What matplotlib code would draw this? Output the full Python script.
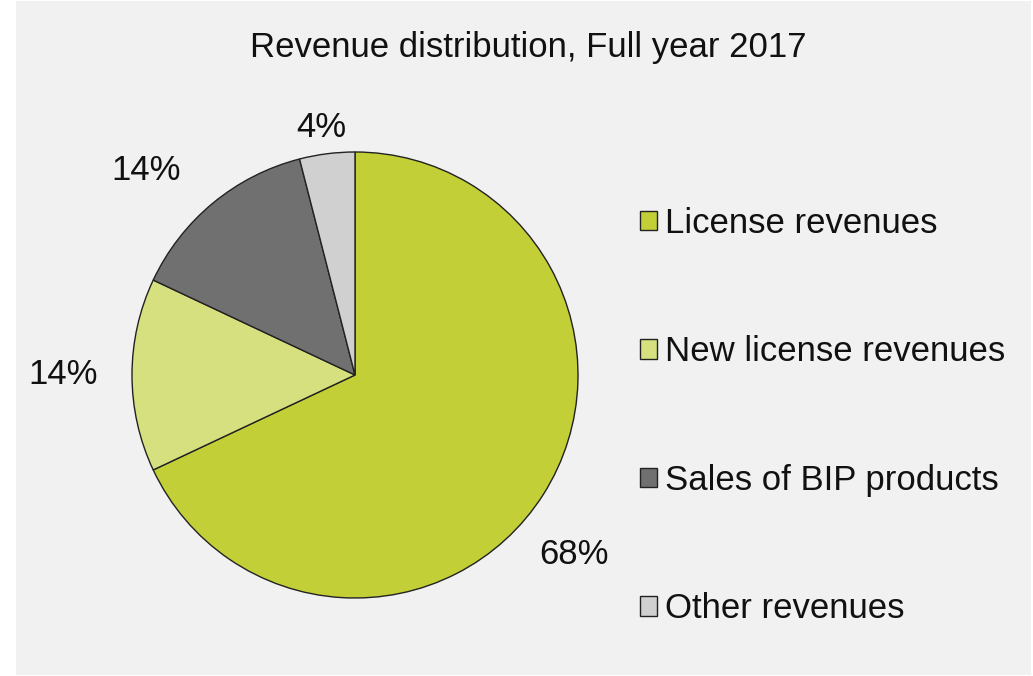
import matplotlib
matplotlib.use("Agg")
import matplotlib.pyplot as plt
from matplotlib.patches import Rectangle
import numpy as np

title = "Revenue distribution, Full year 2017"
categories = ["License revenues", "New license revenues", "Sales of BIP products", "Other revenues"]
values = [68, 14, 14, 4]
pct_labels = ["68%", "14%", "14%", "4%"]
colors = ["#c3cf37", "#d6e07f", "#707070", "#d0d0d0"]

# label placement styling (radius multiplier, angle nudge in degrees)
label_r = [1.27, 1.31, 1.31, 1.12]
label_dang = [-7, 0, 6, 0.5]

plt.rcParams['font.family'] = ['Liberation Sans', 'DejaVu Sans']
FS = 25
TXT = "#111111"

W, H = 1033, 676
fig = plt.figure(figsize=(W / 100, H / 100), dpi=100, facecolor="white")
fig.patches.append(Rectangle((16 / W, 1 - 675 / H), (1031 - 16) / W, (675 - 1) / H,
                             transform=fig.transFigure, facecolor="#f1f1f1",
                             edgecolor="none", zorder=-10))

cx, cy, r = 355, 375, 223
ax = fig.add_axes([(cx - r) / W, 1 - (cy + r) / H, 2 * r / W, 2 * r / H])
ax.set_facecolor("none")
wedges, _ = ax.pie(values, colors=colors, startangle=90, counterclock=False,
                   wedgeprops=dict(edgecolor="#222222", linewidth=1.0))
ax.set_xlim(-1, 1)
ax.set_ylim(-1, 1)
ax.set_aspect("equal")
ax.axis("off")

for w, lab, lr, da in zip(wedges, pct_labels, label_r, label_dang):
    ang = np.deg2rad((w.theta1 + w.theta2) / 2 + da)
    ax.text(lr * np.cos(ang), lr * np.sin(ang), lab, ha="center", va="center",
            fontsize=FS, color=TXT, clip_on=False)

fig.text(528 / W, 1 - 48 / H, title, ha="center", va="center", fontsize=FS, color=TXT)

leg = fig.legend(wedges, categories, loc="upper left",
                 bbox_to_anchor=(640 / W, 1 - 207 / H), frameon=False,
                 fontsize=FS, handlelength=0.48, handleheight=0.48,
                 handletextpad=0.25, labelspacing=2.75, borderpad=0, borderaxespad=0)
for t in leg.get_texts():
    t.set_color(TXT)

fig.savefig("out.png", dpi=100, facecolor="white")
